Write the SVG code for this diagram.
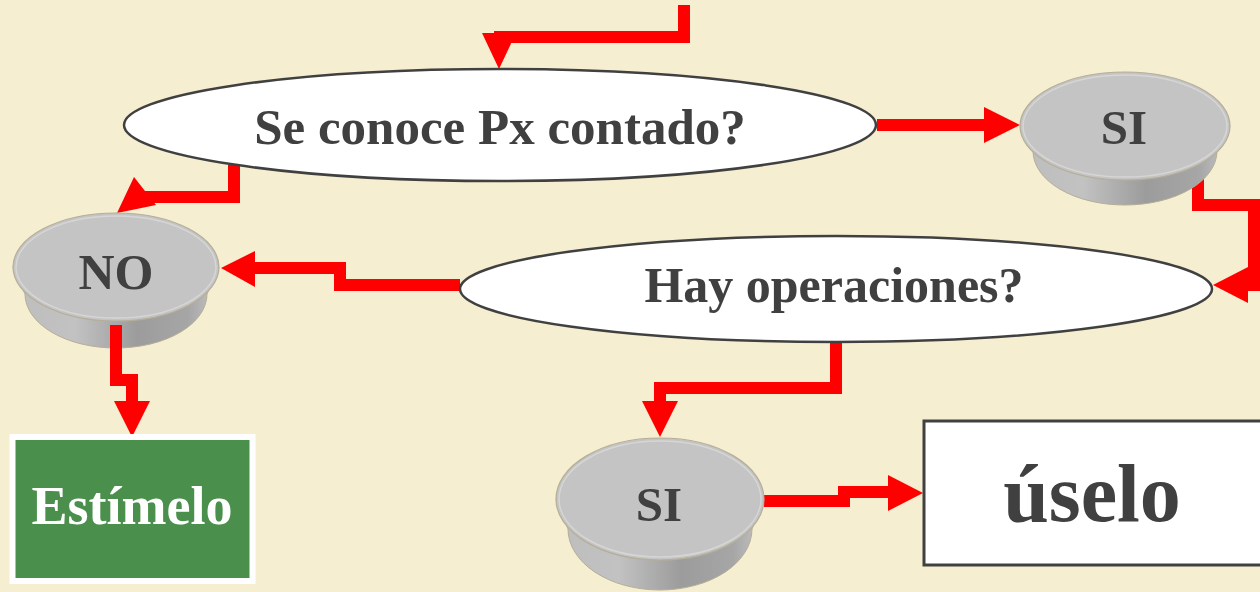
<svg xmlns="http://www.w3.org/2000/svg" width="1260" height="592" viewBox="0 0 1260 592">
  <defs>
    <linearGradient id="side" x1="0" y1="0" x2="1" y2="0">
      <stop offset="0" stop-color="#bdbdbd"/>
      <stop offset="0.3" stop-color="#c2c2c2"/>
      <stop offset="0.6" stop-color="#9c9c9c"/>
      <stop offset="0.85" stop-color="#a6a6a6"/>
      <stop offset="1" stop-color="#c6c6c6"/>
    </linearGradient>
    <style>
      .bg { fill: #f5eed0; }
      .q { fill: #ffffff; stroke: #404040; stroke-width: 2.5; }
      .txt { font-family: "Liberation Serif", "DejaVu Serif", serif; font-weight: bold; fill: #404040; text-anchor: middle; }
      .side { fill: url(#side); stroke: #b5ae98; stroke-width: 1; }
      .top { fill: #c4c4c4; stroke: #b5ae98; stroke-width: 1.2; }
      .rim { fill: none; stroke: #d6d6d6; stroke-width: 1.5; }
      .line { fill: none; stroke: #ff0000; stroke-width: 12; stroke-linejoin: miter; stroke-linecap: butt; }
      .head { fill: #ff0000; }
    </style>
  </defs>
  <rect class="bg" x="0" y="0" width="1260" height="592"/>

  <g id="connectors">
    <path class="line" d="M684,5 V37 H494"/>
    <polygon class="head" points="482,33 516,33 499,69"/>
    <path class="line" d="M877,125 H986"/>
    <polygon class="head" points="984,107 984,143 1020,125"/>
    <path class="line" d="M234,165 V197 H143"/>
    <polygon class="head" points="117,213 134,177 156,205"/>
    <path class="line" d="M460,285 H340 V268 H253"/>
    <polygon class="head" points="255,251 255,287 221,268"/>
    <path class="line" d="M1198,165 V205 H1254 V285 H1246"/>
    <polygon class="head" points="1248,267 1248,303 1213,285"/>
    <path class="line" d="M836,342 V388 H660 V403"/>
    <polygon class="head" points="642,401 678,401 660,437"/>
    <path class="line" d="M764,501 H844 V492 H890"/>
    <polygon class="head" points="888,475 888,511 923,493"/>
  </g>

  <g id="q1">
    <ellipse class="q" cx="500" cy="125" rx="376" ry="56"/>
    <text class="txt" x="500" y="144" font-size="51">Se conoce Px contado?</text>
  </g>

  <g id="q2">
    <ellipse class="q" cx="836" cy="289" rx="376" ry="53"/>
    <text class="txt" x="834" y="302" font-size="50">Hay operaciones?</text>
  </g>

  <g id="si-top">
    <path class="side" d="M1020,126 L1033,151 A92,54 0 0 0 1217,151 L1230,126 Z"/>
    <ellipse class="top" cx="1125" cy="126" rx="105" ry="54"/>
    <ellipse class="rim" cx="1125" cy="126" rx="102" ry="51"/>
    <text class="txt" x="1124" y="144" font-size="49">SI</text>
  </g>

  <g id="no">
    <path class="side" d="M13,267 L25,294 A91,54 0 0 0 207,294 L219,267 Z"/>
    <ellipse class="top" cx="116" cy="267" rx="103" ry="54"/>
    <ellipse class="rim" cx="116" cy="267" rx="100" ry="51"/>
    <text class="txt" x="116" y="289" font-size="50">NO</text>
  </g>

  <g id="no-arrow">
    <path class="line" d="M116,325 V380 H132 V403"/>
    <polygon class="head" points="114,401 150,401 132,437"/>
  </g>

  <g id="si-bottom">
    <path class="side" d="M556,499 L568,529 A92,61 0 0 0 752,529 L764,499 Z"/>
    <ellipse class="top" cx="660" cy="499" rx="104" ry="61"/>
    <ellipse class="rim" cx="660" cy="499" rx="101" ry="58"/>
    <text class="txt" x="659" y="521" font-size="49">SI</text>
  </g>

  <g id="estimelo">
    <rect x="12.5" y="437" width="240" height="144" fill="#4a8f4c" stroke="#ffffff" stroke-width="6"/>
    <text class="txt" x="132" y="524" font-size="54" style="fill:#ffffff">Estímelo</text>
  </g>

  <g id="uselo">
    <rect x="924" y="421" width="340" height="144" fill="#ffffff" stroke="#404040" stroke-width="3"/>
    <text class="txt" x="1092" y="521" font-size="82">úselo</text>
  </g>
</svg>
